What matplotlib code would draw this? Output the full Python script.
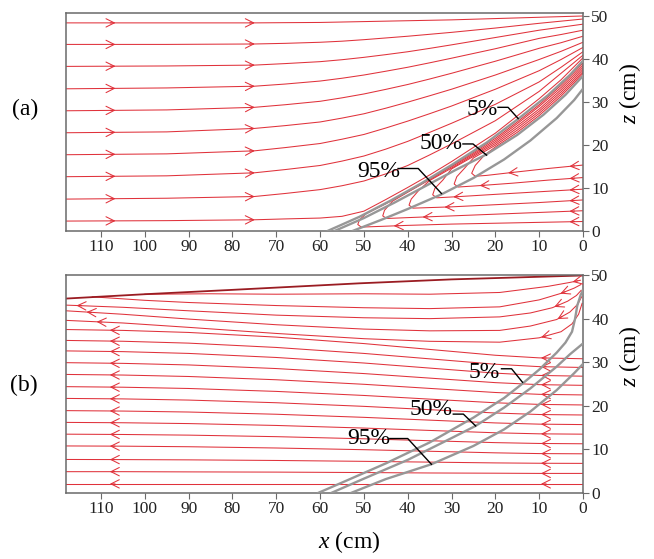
import numpy as np
import matplotlib.pyplot as plt

plt.rcParams['font.family'] = 'Liberation Serif'
plt.rcParams['mathtext.fontset'] = 'custom'
plt.rcParams['mathtext.it'] = 'Liberation Serif:italic'
plt.rcParams['mathtext.rm'] = 'Liberation Serif'

RED = '#e0323b'
GRAY = '#979797'
FRAME = '#6a6a6a'

# ---------------- panel (a): fresh water inflow from the left ----------------
a_stations = [118, 95, 75, 68, 60, 55, 50, 45, 40, 35, 30, 25, 20, 15, 10, 5, 0]
a_inflow_z = [
    [48.3, 48.3, 48.3, 48.35, 48.4, 48.5, 48.6, 48.7, 48.8, 48.9, 49.0, 49.15, 49.3, 49.45, 49.6, 49.75, 49.9],
    [43.3, 43.3, 43.4, 43.55, 43.8, 44.05, 44.4, 44.8, 45.2, 45.65, 46.1, 46.6, 47.1, 47.65, 48.2, 48.7, 49.2],
    [38.2, 38.3, 38.5, 38.85, 39.3, 39.75, 40.3, 40.93, 41.6, 42.38, 43.2, 44.05, 44.9, 45.75, 46.6, 47.3, 48.0],
    [33.0, 33.2, 33.6, 34.1, 34.8, 35.45, 36.2, 37.08, 38.0, 39.03, 40.1, 41.2, 42.3, 43.5, 44.7, 45.6, 46.6],
    [27.9, 28.1, 28.7, 29.3, 30.1, 30.9, 31.8, 32.87, 34.0, 35.27, 36.6, 38.0, 39.4, 40.9, 42.4, 43.7, 45.2],
    [22.8, 23.0, 23.8, 24.45, 25.3, 26.2, 27.2, 28.5, 29.9, 31.38, 32.9, 34.55, 36.2, 38.0, 39.8, 41.7, 43.8],
    [17.7, 17.9, 18.6, 19.35, 20.3, 21.3, 22.4, 23.9, 25.5, 27.22, 29.0, 30.95, 32.9, 35.05, 37.2, 39.8, 42.6],
    [12.6, 12.8, 13.5, 14.25, 15.2, 16.22, 17.4, 19.0, 20.8, 22.88, 25.0, 27.2, 29.4, 32.0, 34.6, 38.0, 41.6],
    [7.4, 7.6, 8.0, 8.7, 9.6, 10.5, 11.6, 13.25, 15.2, 17.65, 20.2, 22.9, 25.6, 29.0, 32.4, 36.6, 40.8],
    [2.3, 2.4, 2.6, 2.8, 3.0, 3.4, 4.6, 7.3, 10.1, 13.0, 16.1, 19.4, 22.7, 26.7, 30.7, 35.1, 40.2],
]
a_inflow_arrows = [107.3, 75.5]

# recirculating sea water entering at x = 0
a_recirc = [
    ([0, 8, 16, 22, 24.6, 25.4, 24.6, 22.5, 20, 15, 10, 5, 2, 0],
     [15.3, 14.5, 13.6, 12.9, 12.7, 13.4, 15.2, 17.6, 19.5, 22.9, 26.8, 31.3, 34.4, 36.6]),
    ([0, 8, 16, 24, 28.5, 29.4, 28.8, 27, 25, 20, 15, 10, 5, 2, 0],
     [12.4, 11.8, 11.1, 10.5, 10.2, 10.9, 12.6, 14.6, 16.95, 19.9, 23.4, 27.3, 31.8, 34.85, 37.0]),
    ([0, 10, 20, 28, 33.4, 34.3, 33.8, 32, 30, 25, 20, 15, 10, 5, 2, 0],
     [9.7, 9.1, 8.5, 8.0, 7.7, 8.4, 9.9, 11.8, 14.4, 17.3, 20.3, 23.9, 27.8, 32.3, 35.3, 37.5]),
    ([0, 10, 20, 30, 38.8, 39.7, 39.2, 37.5, 35, 30, 25, 20, 15, 10, 5, 2, 0],
     [7.2, 6.6, 6.1, 5.6, 5.3, 6.0, 7.4, 9.4, 11.7, 14.6, 17.6, 20.7, 24.4, 28.3, 32.8, 35.8, 38.0]),
    ([0, 10, 20, 30, 40, 44.8, 45.7, 45.3, 43.5, 40, 35, 30, 25, 20, 15, 10, 5, 2, 0],
     [4.7, 4.3, 3.9, 3.5, 3.1, 2.9, 3.5, 4.8, 6.9, 9.0, 11.9, 14.9, 17.9, 21.1, 24.9, 28.9, 33.3, 36.3, 38.5]),
    ([0, 10, 20, 30, 40, 48, 50.6, 51.4, 51, 49.5, 45, 40, 35, 30, 25, 20, 15, 10, 5, 2, 0],
     [2.2, 2.0, 1.8, 1.6, 1.3, 1.0, 0.9, 1.5, 2.6, 4.0, 6.3, 9.1, 12.05, 15.1, 18.2, 21.5, 25.3, 29.3, 33.8, 36.8, 39.0]),
]
a_recirc_arrows = [2.5, 16.5, 2.5, 23.0, 2.5, 29.0, 2.5, 31.0, 2.5, 36.0, 2.5, 42.6]

a_contours = {
    '5%': ([58.3, 51, 44, 37, 30, 22, 14.8, 8, 3, 0],
           [0, 3.3, 7.0, 11.0, 15.3, 20.5, 26.0, 31.5, 36.2, 39.5]),
    '50%': ([56.7, 50, 43, 36, 29, 22, 15, 9, 4, 0],
            [0, 3.0, 6.6, 10.4, 14.2, 17.8, 22.3, 27.0, 31.6, 36.0]),
    '95%': ([52.6, 46, 40, 32.3, 25, 18, 12, 6, 2, 0],
            [0, 2.6, 5.1, 8.5, 12.3, 16.6, 21.0, 26.2, 30.4, 33.0]),
}
a_label_pos = {'5%': (23.0, 28.3), '50%': (32.3, 20.2), '95%': (46.6, 13.9)}
a_leaders = {
    '5%': ([19.4, 17.1, 14.8], [28.7, 28.7, 26.1]),
    '50%': ([27.4, 25.1, 22.0], [20.2, 20.2, 17.6]),
    '95%': ([42.2, 37.6, 32.3], [14.5, 14.5, 8.7]),
}

# ---------------- panel (b): flow from x = 0 towards the left ----------------
b_stations = [0, 10, 20, 35, 50, 70, 90, 105, 118]
b_lower_z = [
    [2.1, 2.1, 2.1, 2.1, 2.1, 2.1, 2.1, 2.1, 2.1],
    [4.5, 4.5, 4.55, 4.6, 4.7, 4.8, 4.85, 4.9, 4.9],
    [6.8, 6.83, 6.91, 7.09, 7.27, 7.47, 7.61, 7.67, 7.7],
    [9.0, 9.05, 9.22, 9.58, 9.94, 10.33, 10.62, 10.75, 10.8],
    [11.3, 11.37, 11.56, 12.0, 12.44, 12.93, 13.28, 13.43, 13.5],
    [13.5, 13.58, 13.82, 14.36, 14.9, 15.5, 15.93, 16.12, 16.2],
    [15.7, 15.8, 16.08, 16.72, 17.36, 18.07, 18.58, 18.8, 18.9],
    [17.9, 18.01, 18.36, 19.12, 19.88, 20.71, 21.32, 21.59, 21.7],
    [20.2, 20.33, 20.7, 21.54, 22.38, 23.31, 23.98, 24.27, 24.4],
    [22.5, 22.64, 23.06, 24.0, 24.94, 25.98, 26.73, 27.06, 27.2],
    [24.7, 24.86, 25.32, 26.36, 27.4, 28.55, 29.38, 29.74, 29.9],
    [26.8, 26.97, 27.5, 28.66, 29.82, 31.09, 32.02, 32.43, 32.6],
    [28.8, 28.99, 29.54, 30.78, 32.02, 33.39, 34.38, 34.81, 35.0],
    [30.8, 31.0, 31.6, 32.94, 34.28, 35.76, 36.83, 37.3, 37.5],
]
b_lower_arrows = [9.0, 107.4]

b_upper = [
    ([0.2, 1.0, 2.5, 5, 10, 19, 35, 50, 70, 90, 105, 118],
     [43.5, 41.0, 38.8, 37.0, 35.6, 34.6, 34.8, 35.4, 36.6, 38.0, 39.0, 39.6]),
    ([0.3, 1.2, 3, 6, 12, 19, 35, 50, 70, 90, 105, 118],
     [45.0, 43.3, 41.5, 39.8, 38.3, 37.3, 37.2, 37.6, 38.6, 39.9, 41.0, 41.8]),
    ([0.4, 1.5, 3.5, 7, 12, 19, 35, 50, 70, 90, 105, 118],
     [46.5, 45.3, 44.0, 42.5, 41.3, 40.4, 40.0, 40.2, 40.8, 41.8, 42.6, 43.1]),
    ([0.5, 2, 5, 10, 19, 35, 50, 70, 90, 100, 112],
     [47.8, 47.0, 45.8, 44.3, 42.7, 42.3, 42.5, 43.0, 43.7, 44.2, 45.0]),
    ([0.6, 3, 8, 19, 35, 50, 70, 85, 100],
     [48.8, 48.3, 47.4, 46.0, 45.6, 45.7, 45.6, 45.7, 45.6]),
]
b_upper_arrows = [(9.0, 110.4), (5.3, 112.7), (6.0, 115.0), (4.6,), (1.8,)]

b_top_x = [0, 10, 20, 30, 51, 80, 100, 118]
b_top_z = [49.9, 49.6, 49.3, 49.0, 48.1, 46.6, 45.6, 44.6]

b_contours = {
    '5%': ([60.5, 55, 45, 35, 25, 18, 13.8, 10, 6, 4, 2.5, 1.8, 1.3, 0.5, 0],
           [0, 2.4, 6.8, 11.6, 17.3, 21.8, 25.1, 28.3, 32.2, 34.5, 37.0, 40.0, 43.0, 45.5, 46.5]),
    '50%': ([57.5, 50, 40, 30, 24.5, 18, 12, 6, 3, 0],
            [0, 3.3, 7.6, 12.6, 15.4, 19.6, 24.0, 29.0, 31.8, 34.3]),
    '95%': ([53, 45, 34.6, 25, 18, 12, 6, 2, 0],
            [0, 3.2, 6.6, 10.8, 14.6, 18.7, 23.6, 27.5, 29.6]),
}
b_label_pos = {'5%': (22.6, 27.6), '50%': (34.7, 19.2), '95%': (48.9, 12.4)}
b_leaders = {
    '5%': ([18.6, 16.3, 13.8], [28.5, 28.5, 25.4]),
    '50%': ([29.6, 27.3, 24.5], [18.1, 18.1, 15.4]),
    '95%': ([44.1, 40.0, 34.6], [12.5, 12.5, 6.6]),
}

x_ticks = list(range(0, 111, 10))
z_ticks = list(range(0, 51, 10))


def add_arrow(ax, xs, zs, xa):
    # open chevron on the polyline at x = xa, pointing along the point order
    for i in range(len(xs) - 1):
        x0, x1 = xs[i], xs[i + 1]
        if x0 != x1 and min(x0, x1) <= xa <= max(x0, x1):
            t = (xa - x0) / (x1 - x0)
            za = zs[i] + t * (zs[i + 1] - zs[i])
            dx, dz = x1 - x0, zs[i + 1] - zs[i]
            n = np.hypot(dx, dz)
            ax.annotate('', xy=(xa + dx / n * 0.6, za + dz / n * 0.6),
                        xytext=(xa - dx / n * 0.6, za - dz / n * 0.6),
                        arrowprops=dict(arrowstyle='->,head_length=0.6,head_width=0.3',
                                        color=RED, lw=0.75, shrinkA=0, shrinkB=0))
            return


def style_axes(ax, ztop):
    ax.set_xlim(118, 0)
    ax.set_ylim(0, ztop)
    ax.set_xticks(x_ticks)
    ax.set_yticks(z_ticks)
    ax.yaxis.tick_right()
    ax.tick_params(direction='out', length=4, width=0.8, color=FRAME,
                   labelsize=12.5, pad=2, labelcolor='#222222')
    for sp in ax.spines.values():
        sp.set_color(FRAME)
        sp.set_linewidth(1.1)


def draw_contours(ax, contours, label_pos, leaders):
    for key, (cx, cz) in contours.items():
        ax.plot(cx, cz, color=GRAY, lw=1.7, zorder=3, solid_capstyle='round')
    for key, (lx, lz) in leaders.items():
        ax.plot(lx, lz, color='black', lw=1.0, zorder=4)
        tx, tz = label_pos[key]
        ax.text(tx, tz, key, fontsize=17, ha='center', va='center', zorder=5)


fig = plt.figure(figsize=(6.54, 5.59), dpi=100)
ax_a = fig.add_axes([0.1009, 0.5868, 0.7905, 0.39])
ax_b = fig.add_axes([0.1009, 0.118, 0.7905, 0.39])

# (a)
for zs in a_inflow_z:
    ax_a.plot(a_stations, zs, color=RED, lw=0.75)
    for xa in a_inflow_arrows:
        add_arrow(ax_a, a_stations, zs, xa)
for k, (rx, rz) in enumerate(a_recirc):
    ax_a.plot(rx, rz, color=RED, lw=0.75)
    for xa in a_recirc_arrows[2 * k:2 * k + 2]:
        add_arrow(ax_a, rx, rz, xa)
draw_contours(ax_a, a_contours, a_label_pos, a_leaders)
style_axes(ax_a, 50.6)

# (b)
for zs in b_lower_z:
    ax_b.plot(b_stations, zs, color=RED, lw=0.75)
    for xa in b_lower_arrows:
        add_arrow(ax_b, b_stations, zs, xa)
for (ux, uz), arrows in zip(b_upper, b_upper_arrows):
    ax_b.plot(ux, uz, color=RED, lw=0.75)
    for xa in arrows:
        add_arrow(ax_b, ux, uz, xa)
ax_b.plot(b_top_x, b_top_z, color='#9a1c22', lw=1.3)
draw_contours(ax_b, b_contours, b_label_pos, b_leaders)
style_axes(ax_b, 50)

fig.text(0.038, 0.805, '(a)', fontsize=17, ha='center', va='center')
fig.text(0.037, 0.311, '(b)', fontsize=17, ha='center', va='center')
fig.text(0.963, 0.832, '$\\it{z}$ (cm)', fontsize=17, rotation=90, ha='center', va='center')
fig.text(0.963, 0.362, '$\\it{z}$ (cm)', fontsize=17, rotation=90, ha='center', va='center')
fig.text(0.534, 0.031, '$\\it{x}$ (cm)', fontsize=17, ha='center', va='center')

fig.savefig('out.png', dpi=100)
